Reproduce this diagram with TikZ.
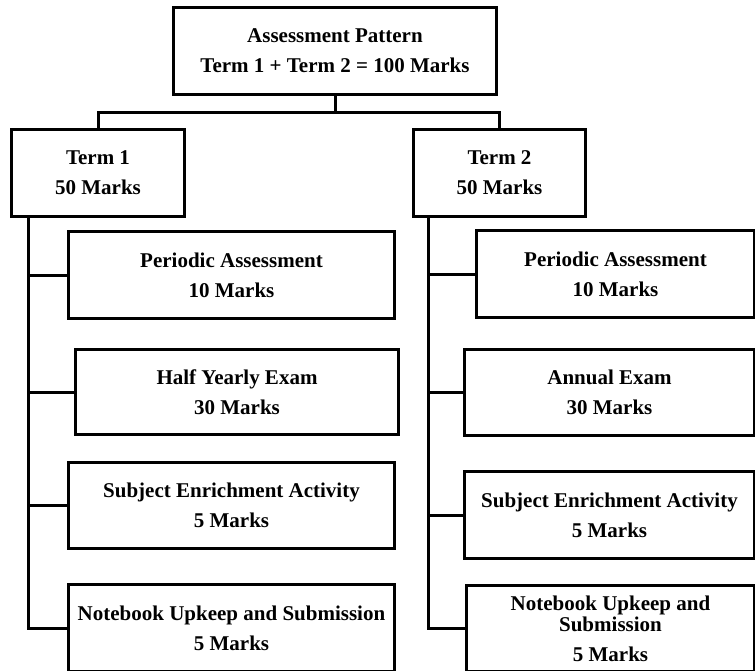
\documentclass[tikz,border=0pt]{standalone}
\usepackage{fontspec}
\setmainfont{Liberation Serif}
\usepackage{tikz}
\usetikzlibrary{
	positioning,
	calc
}

\begin{document}
\begin{tikzpicture}[x=1pt, y=-1pt, line width=3pt,
        box/.style={draw, rectangle, inner sep=0pt, anchor=north west, align=center,
            font=\bfseries\fontsize{21}{30}\selectfont}]
        \useasboundingbox (0,0) rectangle (755,671);

        \node[box, minimum width=323pt, minimum height=87pt] (AP) at (172,6) {Assessment Pattern\\Term 1 + Term 2 = 100 Marks};
        \node[box, minimum width=173pt, minimum height=87pt] (T1) at (10,128) {Term 1\\50 Marks};
        \node[box, minimum width=172pt, minimum height=87pt] (T2) at (412,128) {Term 2\\50 Marks};

        % Term 1 parts
        \node[box, minimum width=326pt, minimum height=87pt] (PA1) at (67,230) {Periodic Assessment\\10 Marks};
        \node[box, minimum width=323pt, minimum height=85pt] (HY) at (74,348) {Half Yearly Exam\\30 Marks};
        \node[box, minimum width=326pt, minimum height=86pt] (SE1) at (67,461) {Subject Enrichment Activity\\5 Marks};
        \node[box, minimum width=326pt, minimum height=87pt] (NU1) at (67,583) {Notebook Upkeep and Submission\\5 Marks};

        % Term 2 parts
        \node[box, minimum width=278pt, minimum height=87pt] (PA2) at (475,229) {Periodic Assessment\\10 Marks};
        \node[box, minimum width=290pt, minimum height=86pt] (AE) at (463,348) {Annual Exam\\30 Marks};
        \node[box, minimum width=290pt, minimum height=87pt] (SE2) at (463,470) {Subject Enrichment Activity\\5 Marks};
        \node[box, minimum width=288pt, minimum height=86pt, font=\bfseries\fontsize{21}{21}\selectfont] (NU2) at (465,584) {Notebook Upkeep and\\Submission\\[9pt]5 Marks};

        \coordinate (split) at ($(AP.south)+(0,17)$);
        \draw (AP.south) -- (split);
        \draw (split) -| (T1.north);
        \draw (split) -| (T2.north);

        \coordinate (trunkA) at ($(T1.south west)+(18,0)$);
        \coordinate (trunkB) at ($(T2.south west)+(16,0)$);
        \draw (trunkA) |- (NU1.west);
        \draw (trunkB) |- (NU2.west);
        \foreach \n in {PA1, HY, SE1}
            \draw (trunkA |- \n.west) -- (\n.west);
        \foreach \n in {PA2, AE, SE2}
            \draw (trunkB |- \n.west) -- (\n.west);
    \end{tikzpicture}
\end{document}
